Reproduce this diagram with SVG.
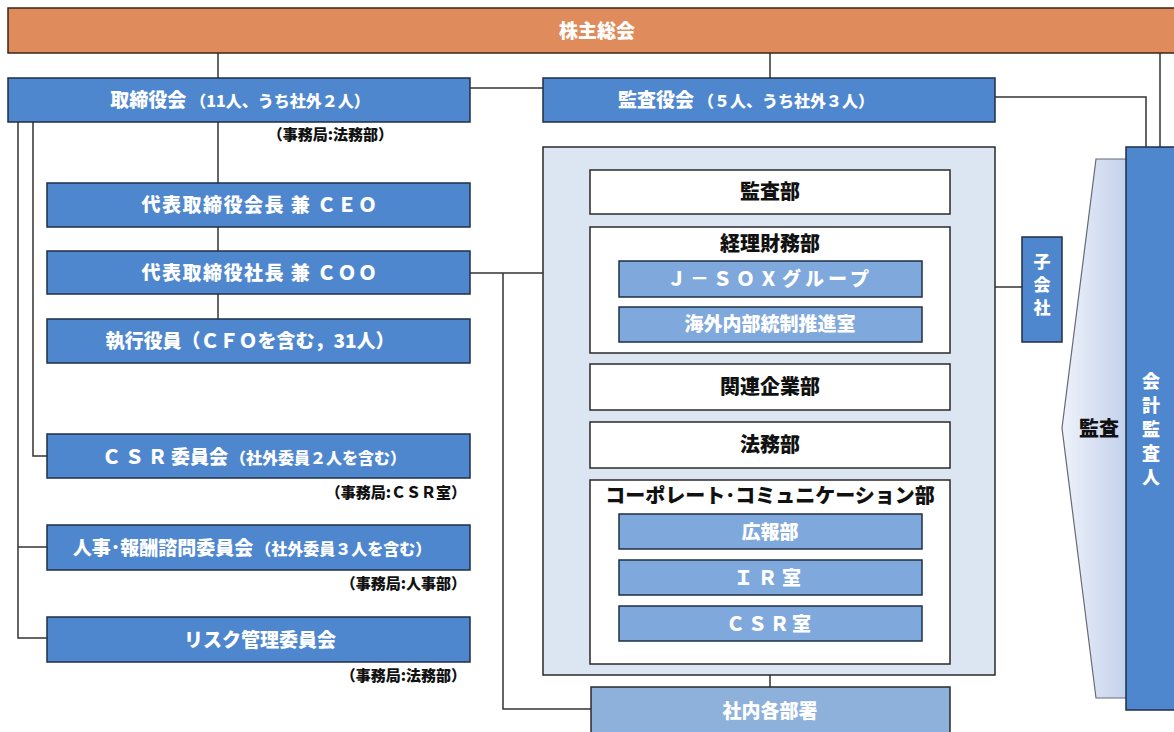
<svg xmlns="http://www.w3.org/2000/svg" width="1174" height="732" viewBox="0 0 1174 732">
<style>
text{font-family:"Noto Sans CJK JP","Noto Sans",sans-serif;font-weight:900;}
.blue{fill:#4F87CF;stroke:#1E2F45;stroke-width:1.5;}
.sub{fill:#7FA8DC;stroke:#1E2F45;stroke-width:1.5;}
.white{fill:#FFFFFF;stroke:#2A2A2A;stroke-width:1.5;}
.wt{fill:#FFFFFF;font-size:19px;text-anchor:middle;}
.bt{fill:#111111;font-size:20px;text-anchor:middle;}
.sm{font-size:16px;}
.note{fill:#111111;font-size:15px;text-anchor:end;}
.vt{fill:#FFFFFF;text-anchor:middle;writing-mode:vertical-rl;}
.ln{fill:none;stroke:#333333;stroke-width:1.5;}
</style>

<g id="connectors">
<path class="ln" d="M218,53V78 M770,53V78 M1160,53V147 M995,97H1146V147"/>
<path class="ln" d="M470,88H543"/>
<path class="ln" d="M218,122V183 M218,227V251 M218,294V319"/>
<path class="ln" d="M18,122V638H47 M18,547H47 M33,122V456H47"/>
<path class="ln" d="M470,273H543 M503,273V709H591"/>
<path class="ln" d="M770,675V687"/>
<path class="ln" d="M590,193H567V537H590 M567,285H590 M567,387H590 M567,445H590"/>
<path class="ln" d="M950,193H973V387H950 M950,287H1022"/>
</g>

<g id="shareholders">
<rect x="8" y="8" width="1180" height="45" fill="#E08B5C" stroke="#3A2418" stroke-width="1.5"/>
<text class="wt" x="597" y="38" font-size="20">株主総会</text>
</g>

<g id="board">
<rect class="blue" x="8" y="78" width="462" height="44"/>
<text class="wt" x="240" y="107">取締役会<tspan class="sm" dx="4">（11人、うち社外２人）</tspan></text>
<text class="note" x="393" y="140">（事務局:法務部）</text>
</g>

<g id="auditors-board">
<rect class="blue" x="543" y="78" width="452" height="44"/>
<text class="wt" x="746" y="107">監査役会<tspan class="sm" dx="4">（５人、うち社外３人）</tspan></text>
</g>

<g id="ceo">
<rect class="blue" x="47" y="183" width="423" height="44"/>
<text class="wt" x="260" y="212" letter-spacing="1.5">代表取締役会長 兼 ＣＥＯ</text>
</g>

<g id="coo">
<rect class="blue" x="47" y="251" width="423" height="43"/>
<text class="wt" x="260" y="280" letter-spacing="1.5">代表取締役社長 兼 ＣＯＯ</text>
</g>

<g id="officers">
<rect class="blue" x="47" y="319" width="423" height="44"/>
<text class="wt" x="250" y="348" font-size="18">執行役員（ＣＦＯを含む，31人）</text>
</g>

<g id="csr-committee">
<rect class="blue" x="47" y="434" width="423" height="44"/>
<text class="wt" x="254" y="464" font-size="22"><tspan letter-spacing="4">ＣＳＲ</tspan>委員会<tspan class="sm" dx="2">（社外委員２人を含む）</tspan></text>
<text class="note" x="466" y="498">（事務局:ＣＳＲ室）</text>
</g>

<g id="hr-committee">
<rect class="blue" x="47" y="525" width="423" height="45"/>
<text class="wt" x="252" y="555" font-size="20">人事･報酬諮問委員会<tspan class="sm" dx="2">（社外委員３人を含む）</tspan></text>
<text class="note" x="466" y="589">（事務局:人事部）</text>
</g>

<g id="risk-committee">
<rect class="blue" x="47" y="617" width="423" height="45"/>
<text class="wt" x="260" y="647" font-size="20">リスク管理委員会</text>
<text class="note" x="466" y="681">（事務局:法務部）</text>
</g>

<g id="container">
<rect x="543" y="147" width="452" height="528" fill="#DCE6F2" stroke="#2A2A2A" stroke-width="1.5"/>
</g>

<g id="audit-dept">
<rect class="white" x="590" y="170" width="360" height="44"/>
<text class="bt" x="770" y="199">監査部</text>
</g>

<g id="finance-dept">
<rect class="white" x="590" y="227" width="360" height="126"/>
<text class="bt" x="770" y="251">経理財務部</text>
<rect class="sub" x="619" y="261" width="303" height="36"/>
<text class="wt" x="770" y="286" letter-spacing="4">Ｊ－ＳＯＸグループ</text>
<rect class="sub" x="619" y="307" width="303" height="35"/>
<text class="wt" x="770" y="331" font-size="20">海外内部統制推進室</text>
</g>

<g id="affiliates-dept">
<rect class="white" x="590" y="364" width="360" height="46"/>
<text class="bt" x="770" y="394">関連企業部</text>
</g>

<g id="legal-dept">
<rect class="white" x="590" y="422" width="360" height="46"/>
<text class="bt" x="770" y="452">法務部</text>
</g>

<g id="corpcom-dept">
<rect class="white" x="590" y="480" width="360" height="184"/>
<text class="bt" x="770" y="503">コーポレート･コミュニケーション部</text>
<rect class="sub" x="619" y="514" width="303" height="35"/>
<text class="wt" x="770" y="539" font-size="20">広報部</text>
<rect class="sub" x="619" y="560" width="303" height="35"/>
<text class="wt" x="770" y="585" font-size="20" letter-spacing="5">ＩＲ室</text>
<rect class="sub" x="619" y="606" width="303" height="35"/>
<text class="wt" x="770" y="631" font-size="20" letter-spacing="3">ＣＳＲ室</text>
</g>

<g id="internal-depts">
<rect x="591" y="687" width="359" height="50" fill="#8EB1DC" stroke="#2A2A2A" stroke-width="1.5"/>
<text class="wt" x="770" y="718" font-size="20">社内各部署</text>
</g>

<g id="subsidiaries">
<rect class="blue" x="1022" y="237" width="40" height="105"/>
<text class="vt" x="1042" y="288" font-size="17" letter-spacing="6">子会社</text>
</g>

<g id="audit-arrow">
<defs>
<linearGradient id="ag" x1="0" y1="0" x2="1" y2="0">
<stop offset="0" stop-color="#EEF2FA"/>
<stop offset="1" stop-color="#C3D1EC"/>
</linearGradient>
</defs>
<polygon points="1096,159 1127,159 1127,698 1096,698 1062,428" fill="url(#ag)" stroke="#666A75" stroke-width="1.2"/>
<text class="bt" x="1099" y="436">監査</text>
</g>

<g id="accounting-auditor">
<rect class="blue" x="1126" y="147" width="60" height="563"/>
<text class="vt" x="1151" y="432" font-size="18" letter-spacing="6">会計監査人</text>
</g>
</svg>
